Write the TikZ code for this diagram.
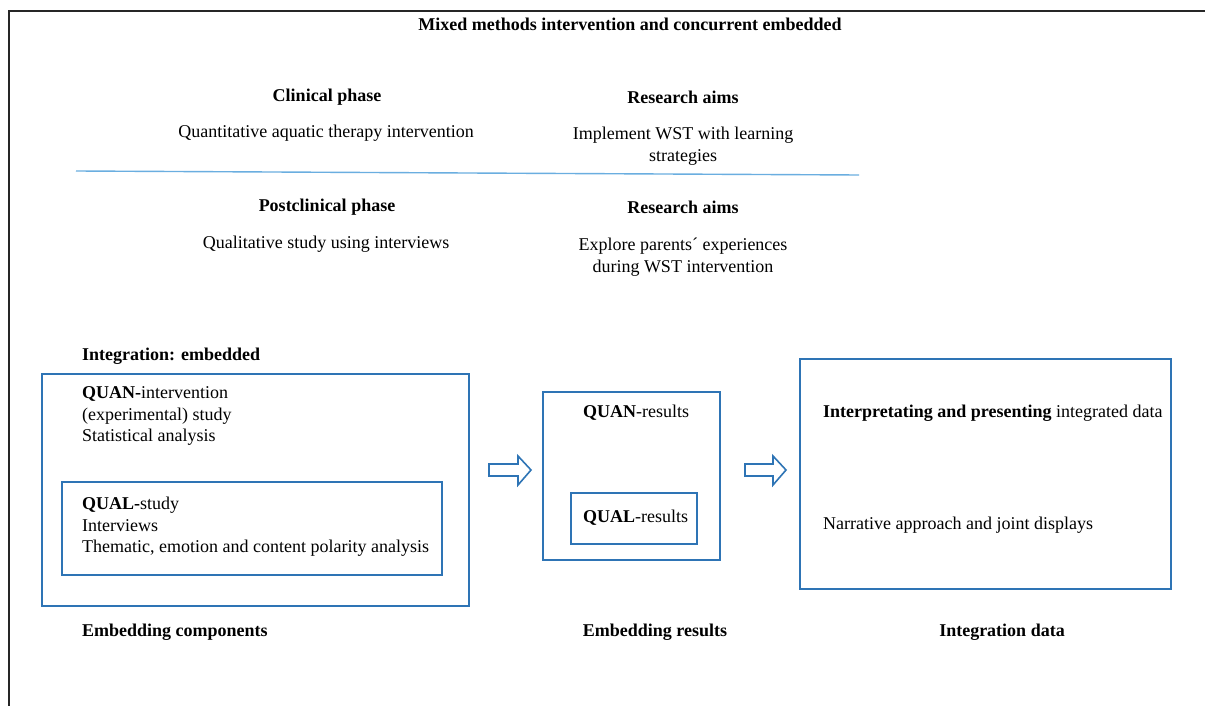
\documentclass[tikz,border=0pt]{standalone}
\usepackage{fontspec}
\setmainfont{Liberation Serif}
\begin{document}
\begin{tikzpicture}[x=1pt,y=-1pt,
  txt/.style={inner sep=0pt,font=\fontsize{18}{21.5}\selectfont},
  bld/.style={txt,font=\fontsize{18}{21.5}\selectfont\bfseries},
  boxa/.style={draw=boxblue,line width=2pt,inner sep=0pt,anchor=north west},
  blockarrow/.style={draw=boxblue,line width=1.6pt,fill=white,line join=miter}
]
\definecolor{boxblue}{HTML}{2E74B5}
\definecolor{lineblue}{HTML}{6AAEE0}
\useasboundingbox (0,0) rectangle (1205,706);
\fill[white] (0,0) rectangle (1205,706);
% frame
\draw[line width=2.6pt,black!85] (1210,11) -- (9,11) -- (9,712);
% title
\node[bld] (title) at (630,24) {Mixed methods intervention and concurrent embedded};
% phases
\node[bld] (clin) at (327,97) {Clinical phase};
\node[txt] (clintxt) at (326,133) {Quantitative aquatic therapy intervention};
\node[bld] (aims1) at (683,97) {Research aims};
\node[txt,align=center] (aims1txt) at (683,146) {Implement WST with learning\\strategies};
\coordinate (l1) at (76,171);
\coordinate (l2) at (859,175);
\draw[lineblue,line width=1.4pt] (l1) -- (l2);
\node[bld] (post) at (327,207) {Postclinical phase};
\node[txt] (posttxt) at (326,244) {Qualitative study using interviews};
\node[bld] (aims2) at (683,207) {Research aims};
\node[txt,align=center] (aims2txt) at (683,257) {Explore parents´ experiences\\during WST intervention};
% integration
\node[bld,anchor=west] (integ) at (82,356) {Integration: embedded};
\node[boxa,minimum width=427pt,minimum height=232pt] (compbox) at (41,373) {};
\node[txt,anchor=west,align=left] (quan) at (82,416) {\textbf{QUAN-}intervention\\(experimental) study\\Statistical analysis};
\node[boxa,minimum width=380pt,minimum height=93pt] (qualbox) at (61,481) {};
\node[txt,anchor=west,align=left] (qual) at (82,527) {\textbf{QUAL-}study\\Interviews\\Thematic, emotion and content polarity analysis};
% middle
\node[boxa,minimum width=177pt,minimum height=168pt] (resbox) at (542,391) {};
\node[txt,anchor=west] (quanres) at (583,413) {\textbf{QUAN}-results};
\node[boxa,minimum width=126pt,minimum height=51pt] (qualresbox) at (570,492) {};
\node[txt,anchor=west] (qualres) at (583,518) {\textbf{QUAL}-results};
% right
\node[boxa,minimum width=371pt,minimum height=230pt] (intbox) at (799,358) {};
\node[txt,anchor=west] (interp) at (823,413) {\textbf{Interpretating and presenting} integrated data};
\node[txt,anchor=west] (narr) at (823,525) {Narrative approach and joint displays};
% block arrows
\draw[blockarrow] (489,464) -- (518,464) -- (518,456) -- (531,470) -- (518,485) -- (518,476) -- (489,476) -- cycle;
\draw[blockarrow] (745,464) -- (773,464) -- (773,456) -- (786,470) -- (773,485) -- (773,476) -- (745,476) -- cycle;
% bottom labels
\node[bld,anchor=west] (embcomp) at (82,632) {Embedding components};
\node[bld] (embres) at (655,632) {Embedding results};
\node[bld] (intdata) at (1002,632) {Integration data};
\end{tikzpicture}
\end{document}
